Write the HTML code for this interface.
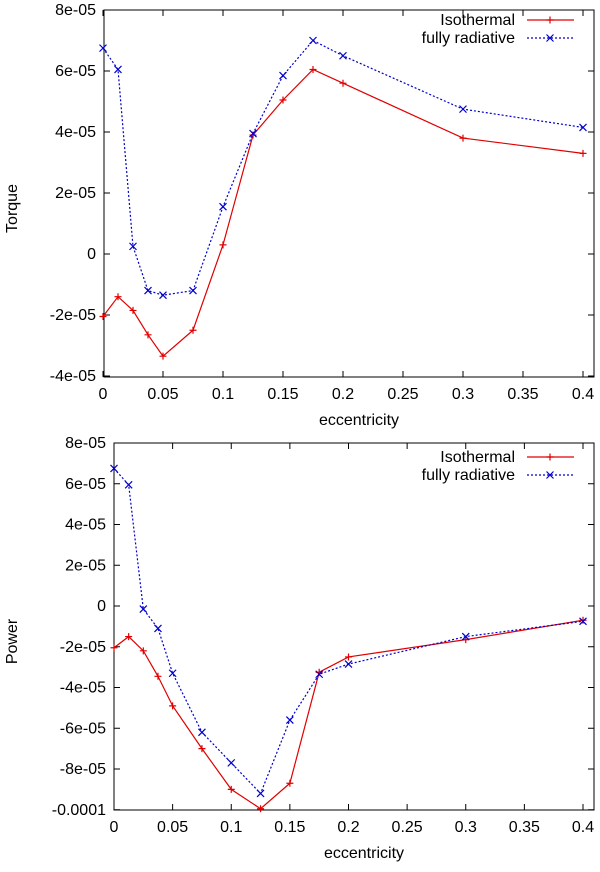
<!DOCTYPE html>
<html><head><meta charset="utf-8"><style>
body{margin:0;background:#fff;}
svg{font-family:"Liberation Sans",sans-serif;}
</style></head><body>
<svg id="c" width="600" height="867" xmlns="http://www.w3.org/2000/svg"></svg>
<script>
const ecc = [0,0.0125,0.025,0.0375,0.05,0.075,0.1,0.125,0.15,0.175,0.2,0.3,0.4];
const torqueIso = [-2.05,-1.4,-1.85,-2.65,-3.35,-2.5,0.3,3.9,5.05,6.05,5.6,3.8,3.3];
const torqueRad = [6.75,6.05,0.25,-1.2,-1.35,-1.2,1.55,3.95,5.85,7.0,6.5,4.75,4.15];
const powerIso = [-2.05,-1.5,-2.2,-3.45,-4.9,-7.0,-9.0,-9.95,-8.7,-3.25,-2.5,-1.65,-0.7];
const powerRad = [6.75,5.95,-0.15,-1.1,-3.3,-6.2,-7.7,-9.2,-5.6,-3.35,-2.85,-1.5,-0.75];
const xTicks = [0,0.05,0.1,0.15,0.2,0.25,0.3,0.35,0.4];
const xTickLabels = ["0","0.05","0.1","0.15","0.2","0.25","0.3","0.35","0.4"];
const torqueTicks = [8,6,4,2,0,-2,-4];
const torqueTickLabels = ["8e-05","6e-05","4e-05","2e-05","0","-2e-05","-4e-05"];
const powerTicks = [8,6,4,2,0,-2,-4,-6,-8,-10];
const powerTickLabels = ["8e-05","6e-05","4e-05","2e-05","0","-2e-05","-4e-05","-6e-05","-8e-05","-0.0001"];

const svg=document.getElementById('c');
const NS='http://www.w3.org/2000/svg';
function mk(tag,attrs,parent){const e=document.createElementNS(NS,tag);for(const k in attrs)e.setAttribute(k,attrs[k]);(parent||svg).appendChild(e);return e;}

function panel(o){
  const g=mk('g',{});
  
  
  const xs=v=>o.x0+(v-0)/(0.4)*(o.x04-o.x0);
  const ys=v=>o.yZero+(o.yMaxPix-o.yZero)*(v/o.yMax);
  const frame=mk('rect',{x:o.L,y:o.T,width:o.R-o.L,height:o.B-o.T,fill:'none',stroke:'#000','stroke-width':1},g);
  
  
  xTicks.forEach((t,i)=>{
    const x=xs(t);
    mk('line',{x1:x,y1:o.B,x2:x,y2:o.B-6,stroke:'#000'},g);
    mk('line',{x1:x,y1:o.T,x2:x,y2:o.T+6,stroke:'#000'},g);
    const tx=mk('text',{x:x,y:o.B+22,'font-size':16,'text-anchor':'middle'},g);
    tx.textContent=xTickLabels[i];
    
    
  });
  o.yTicks.forEach((t,i)=>{
    const y=ys(t);
    mk('line',{x1:o.L,y1:y,x2:o.L+6,y2:y,stroke:'#000'},g);
    mk('line',{x1:o.R,y1:y,x2:o.R-6,y2:y,stroke:'#000'},g);
    const tx=mk('text',{x:o.L-8,y:y+5,'font-size':16,'text-anchor':'end'},g);
    tx.textContent=o.yLabels[i];
    
    
  });
  const xt=mk('text',{x:(o.L+o.R)/2+10,y:o.B+48,'font-size':16,'text-anchor':'middle'},g);
  xt.textContent='eccentricity';
  
  
  const yt=mk('text',{x:0,y:0,'font-size':16,'text-anchor':'middle',transform:`translate(17,${(o.T+o.B)/2+15}) rotate(-90)`},g);
  yt.textContent=o.ylabel;
  
  
  function series(vals,color,dash,marker,nm){
    const pts=vals.map((v,i)=>[xs(ecc[i]),ys(v)]);
    const pl=mk('polyline',{points:pts.map(p=>p.join(',')).join(' '),fill:'none',stroke:color,'stroke-width':1.2,'stroke-dasharray':dash},g);
    
    
    pts.forEach(p=>drawMarker(g,p[0],p[1],color,marker,nm));
  }
  series(o.iso,'#e00000','none','plus','isothermal');
  series(o.rad,'#0000d0','2,2','cross','fully-radiative');
  const lg=mk('g',{},g);
  
  
  [['Isothermal','#e00000','none','plus'],['fully radiative','#0000d0','2,2','cross']].forEach((e,i)=>{
    const y=o.legY+i*18;
    const t=mk('text',{x:515,y:y+5,'font-size':16,'text-anchor':'end'},lg);
    t.textContent=e[0];
    
    
    mk('line',{x1:527,y1:y,x2:574,y2:y,stroke:e[1],'stroke-width':1.2,'stroke-dasharray':e[2]},lg);
    drawMarker(lg,550,y,e[1],e[3],'legend');
  });
}
function drawMarker(g,x,y,c,type,nm){
  const s=3.5;
  const m=mk('path',{d:type==='plus'?`M${x-s},${y}H${x+s}M${x},${y-s}V${y+s}`:`M${x-s},${y-s}L${x+s},${y+s}M${x-s},${y+s}L${x+s},${y-s}`,stroke:c,'stroke-width':1.2,fill:'none'},g);
  
  
}
panel({name:'torque-panel',L:104,R:594,T:10,B:377,x0:103,x04:583,yZero:254,yMaxPix:10,yMax:8,yTicks:torqueTicks,yLabels:torqueTickLabels,iso:torqueIso,rad:torqueRad,ylabel:'Torque',legY:20});
panel({name:'power-panel',L:114,R:594,T:443,B:810,x0:114,x04:583,yZero:606,yMaxPix:443,yMax:8,yTicks:powerTicks,yLabels:powerTickLabels,iso:powerIso,rad:powerRad,ylabel:'Power',legY:457});
</script>
</body></html>
